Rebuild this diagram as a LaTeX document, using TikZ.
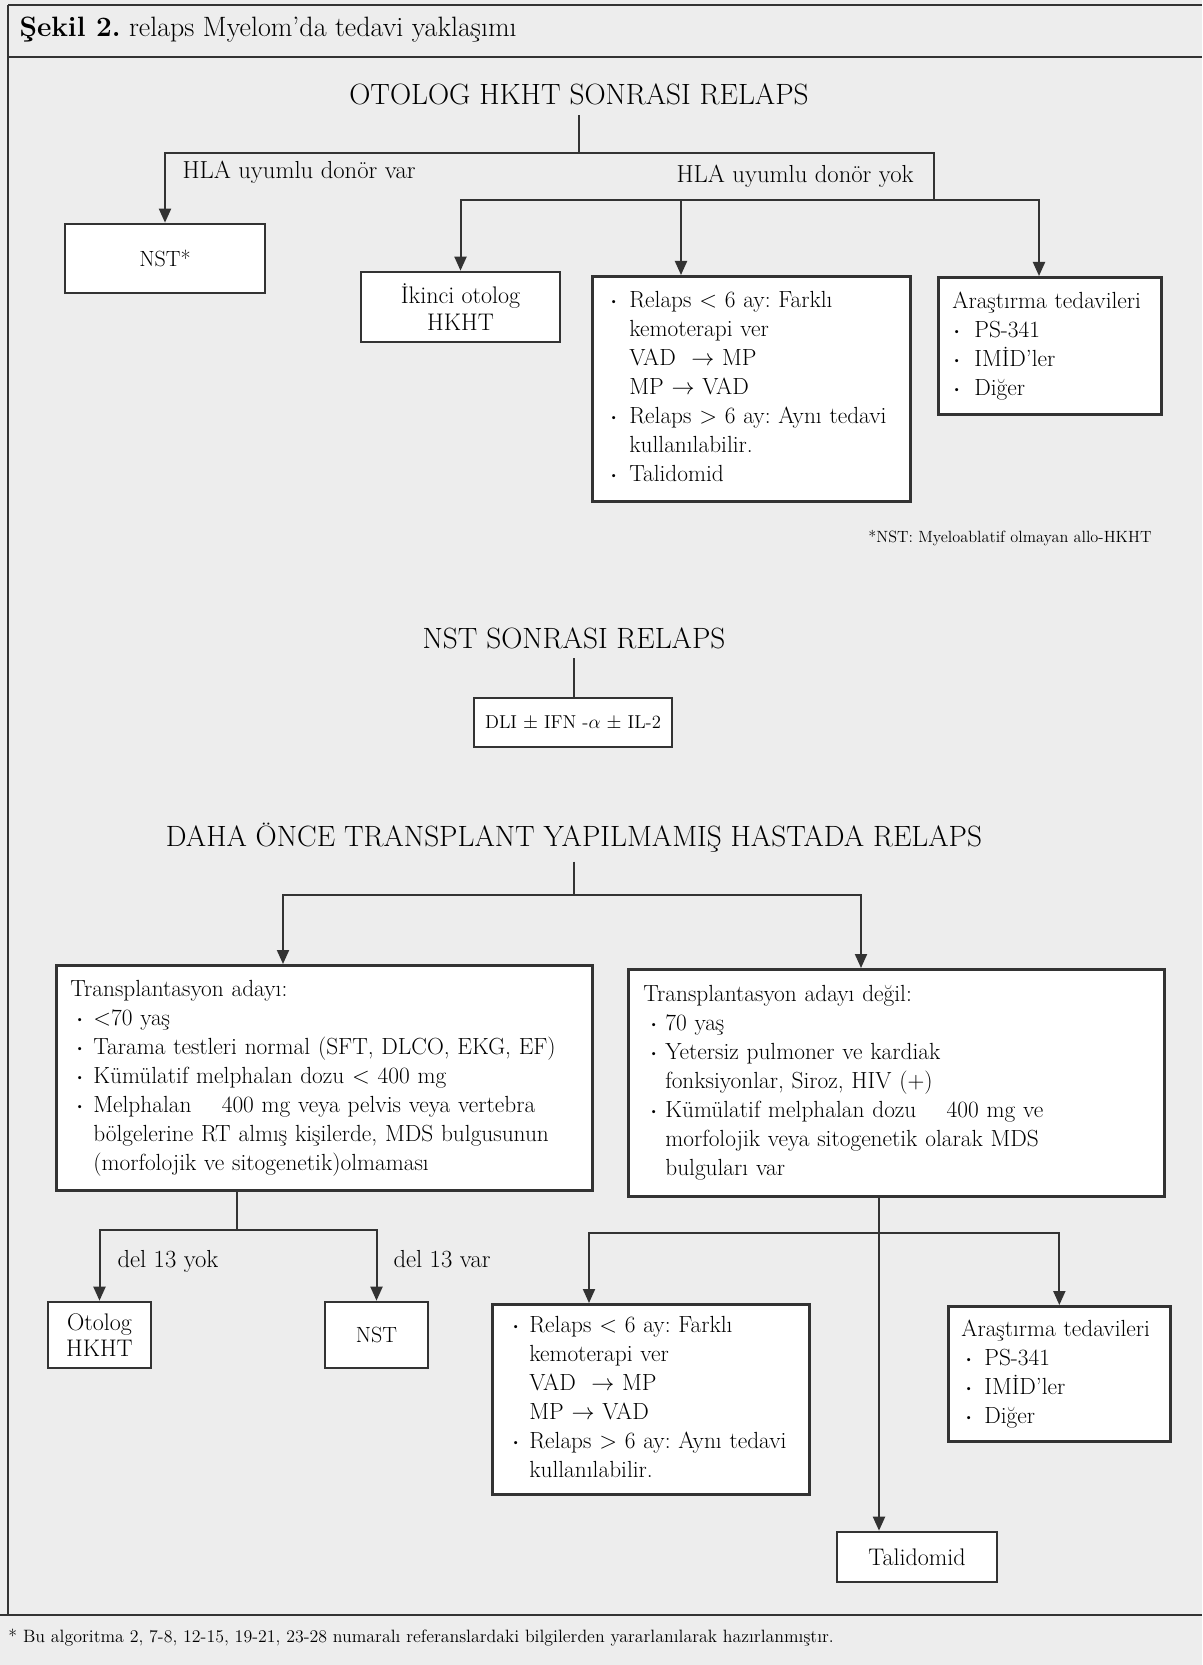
\documentclass[tikz,border=0pt]{standalone}
\usepackage{fontspec}
\usetikzlibrary{arrows.meta}

\tikzset{every picture/.style={line width=0.75pt}}
\tikzset{
  kutu/.style={draw=black!80, fill=white, line width=2pt, inner ysep=0pt, font=\fontsize{17.5}{21.75}\selectfont},
  liste/.style={kutu, anchor=north west, align=left},
  baslik/.style={anchor=base, inner sep=7pt, font=\fontsize{22}{26}\selectfont},
  etiket/.style={inner sep=0pt, font=\fontsize{18.5}{21}\selectfont},
  hat/.style={draw=black!80, line width=1.5pt},
  okhat/.style={hat, -{Triangle[width=9pt,length=10.5pt]}},
  cerceve/.style={draw=black!80, line width=2pt},
}
\newcommand{\nokta}{\raisebox{2pt}{\fontsize{8}{8}\selectfont\textbullet}}

\begin{document}
\frenchspacing
\begin{tikzpicture}[x=0.75pt,y=0.75pt,yscale=-1,xscale=1]
%uncomment if require: \path (0,1665); %set diagram left start at 0, and has height of 1665
\useasboundingbox (0,0) rectangle (1202,1665);
\fill [black!7] (0,0) rectangle (1202,1665);

%Shape: Frame
\draw [cerceve] (8,5) -- (1202,5) ;
\draw [cerceve] (8,57) -- (1202,57) ;
\draw [cerceve] (0,1615) -- (1202,1615) ;
\draw [cerceve] (8,5) -- (8,1615) ;

% Text Node
\draw (19,37) node [anchor=base west][inner sep=0pt][font=\fontsize{21}{24}\selectfont] (sekil) {\textbf{Şekil 2.} relaps Myelom’da tedavi yaklaşımı};

% Text Node
\draw (579,105) node [baslik] (h1) {OTOLOG HKHT SONRASI RELAPS};
% Text Node
\draw (574,648) node [baslik] (h2) {NST SONRASI RELAPS};
% Text Node
\draw (574,846) node [baslik] (h3) {DAHA ÖNCE TRANSPLANT YAPILMAMIŞ HASTADA RELAPS};

%Shape: Rectangle
\draw (165,258.5) node [kutu][font=\fontsize{16.5}{20}\selectfont][minimum width=150pt, minimum height=51.75pt] (nst1) {NST*};
%Shape: Rectangle
\draw (460.5,307) node [kutu][align=center, font=\fontsize{18}{20}\selectfont][minimum width=149.25pt, minimum height=52.5pt] (iki) {İkinci otolog\\HKHT};
%Shape: Rectangle
\draw (591,275) node [liste][inner xsep=12.75pt, text width=213pt, minimum height=168.75pt] (rel1) {\begin{tabular}{@{}p{15pt}@{}l@{}}
\nokta & Relaps < 6 ay: Farklı\\
 & kemoterapi ver\\
 & VAD\ \ $\rightarrow$ MP\\
 & MP $\rightarrow$ VAD\\
\nokta & Relaps > 6 ay: Aynı tedavi\\
 & kullanılabilir.\\
\nokta & Talidomid
\end{tabular}};
%Shape: Rectangle
\draw (937,276) node [liste][inner xsep=10.5pt, text width=146.25pt, minimum height=102.75pt] (ara1) {\begin{tabular}{@{}p{16.5pt}@{}l@{}}
\multicolumn{2}{@{}l@{}}{Araştırma tedavileri}\\
\nokta & PS-341\\
\nokta & IMİD’ler\\
\nokta & Diğer
\end{tabular}};

% Text Node
\draw (1152,542) node [anchor=base east][inner sep=0pt][font=\fontsize{12.2}{14}\selectfont] (dipnot1) {*NST: Myeloablatif olmayan allo-HKHT};

%Shape: Rectangle
\draw (573,722.5) node [kutu][font=\fontsize{14}{17}\selectfont][minimum width=148.5pt, minimum height=36.75pt] (dli) {DLI $\pm$ IFN -$\alpha$ $\pm$ IL-2};

%Shape: Rectangle
\draw (55,964) node [liste][inner xsep=10.5pt, text width=381pt, minimum height=168.75pt] (tra) {\begin{tabular}{@{\hspace{3.75pt}}p{13.5pt}@{}l@{}}
\multicolumn{2}{@{}l@{}}{Transplantasyon adayı:}\\
\nokta & <70 yaş\\
\nokta & Tarama testleri normal (SFT, DLCO, EKG, EF)\\
\nokta & Kümülatif melphalan dozu < 400 mg\\
\nokta & Melphalan\hspace{1.3em}400 mg veya pelvis veya vertebra\\
 & bölgelerine RT almış kişilerde, MDS bulgusunun\\
 & (morfolojik ve sitogenetik)olmaması
\end{tabular}};
%Shape: Rectangle
\draw (627,968) node [liste][inner xsep=11.25pt, text width=379.5pt, minimum height=170.25pt] (trn) {\begin{tabular}{@{\hspace{4.5pt}}p{12pt}@{}l@{}}
\multicolumn{2}{@{}l@{}}{Transplantasyon adayı değil:}\\
\nokta & 70 yaş\\
\nokta & Yetersiz pulmoner ve kardiak\\
 & fonksiyonlar, Siroz, HIV (+)\\
\nokta & Kümülatif melphalan dozu\hspace{1.3em}400 mg ve\\
 & morfolojik veya sitogenetik olarak MDS\\
 & bulguları var
\end{tabular}};

%Shape: Rectangle
\draw (99.5,1335) node [kutu][align=center, font=\fontsize{18}{20}\selectfont][minimum width=77.25pt, minimum height=49.5pt] (oto) {Otolog\\HKHT};
%Shape: Rectangle
\draw (376.5,1335) node [kutu][font=\fontsize{16.5}{20}\selectfont][minimum width=77.25pt, minimum height=49.5pt] (nst2) {NST};
%Shape: Rectangle
\draw (491,1303) node [liste][inner xsep=14.25pt, text width=209.25pt, minimum height=142.5pt] (rel2) {\begin{tabular}{@{}p{13.5pt}@{}l@{}}
\nokta & Relaps < 6 ay: Farklı\\
 & kemoterapi ver\\
 & VAD\ \ $\rightarrow$ MP\\
 & MP $\rightarrow$ VAD\\
\nokta & Relaps > 6 ay: Aynı tedavi\\
 & kullanılabilir.
\end{tabular}};
%Shape: Rectangle
\draw (947,1305) node [liste][inner xsep=9.75pt, text width=147pt, minimum height=101.25pt] (ara2) {\begin{tabular}{@{\hspace{2.25pt}}p{15pt}@{}l@{}}
\multicolumn{2}{@{}l@{}}{Araştırma tedavileri}\\
\nokta & PS-341\\
\nokta & IMİD’ler\\
\nokta & Diğer
\end{tabular}};
%Shape: Rectangle
\draw (917,1557) node [kutu][font=\fontsize{18}{21}\selectfont][minimum width=120pt, minimum height=37.5pt] (tal) {Talidomid};

% Text Node
\draw (8,1642) node [anchor=base west][inner sep=0pt][font=\fontsize{13.4}{16}\selectfont] (dipnot2) {* Bu algoritma 2, 7-8, 12-15, 19-21, 23-28 numaralı referanslardaki bilgilerden yararlanılarak hazırlanmıştır.};

% Text Node
\draw (182,179) node [anchor=base west][etiket] (var1) {HLA uyumlu donör var};
% Text Node
\draw (914,183) node [anchor=base east][etiket] (yok1) {HLA uyumlu donör yok};
% Text Node
\draw (117,1267) node [anchor=base west][etiket] (yok2) {del 13 yok};
% Text Node
\draw (393,1267) node [anchor=base west][etiket] (var2) {del 13 var};

%Straight Lines
\coordinate (c1) at (579,153);
\coordinate (c2) at (934,200);
\coordinate (c3) at (681,200);
\coordinate (c4) at (1039,200);
\draw [hat] (h1.south) -- (c1) ;
\draw [okhat] (c1) -| (nst1.north) ;
\draw [hat] (c1) -| (c2) ;
\draw [okhat] (c2) -| (iki.north) ;
\draw [okhat] (c3) -- (c3 |- rel1.north) ;
\draw [okhat] (c2) -- (c4) -- (c4 |- ara1.north) ;

%Straight Lines
\draw [hat] (h2.south) -- (h2.south |- dli.north) ;

%Straight Lines
\coordinate (c5) at (574,895);
\coordinate (c6) at (283,895);
\coordinate (c7) at (861,895);
\draw [hat] (h3.south) -- (c5) ;
\draw [okhat] (c5) -- (c6) -- (c6 |- tra.north) ;
\draw [okhat] (c5) -- (c7) -- (c7 |- trn.north) ;

%Straight Lines
\coordinate (c8) at (237,1230);
\draw [hat] (c8 |- tra.south) -- (c8) ;
\draw [okhat] (c8) -| (oto.north) ;
\draw [okhat] (c8) -| (nst2.north) ;

%Straight Lines
\coordinate (c9) at (879,1233);
\coordinate (c10) at (589,1233);
\draw [okhat] (c9 |- trn.south) -- (c9 |- tal.north) ;
\draw [okhat] (c9) -- (c10) -- (c10 |- rel2.north) ;
\draw [okhat] (c9) -| (ara2.north) ;

\end{tikzpicture}
\end{document}
